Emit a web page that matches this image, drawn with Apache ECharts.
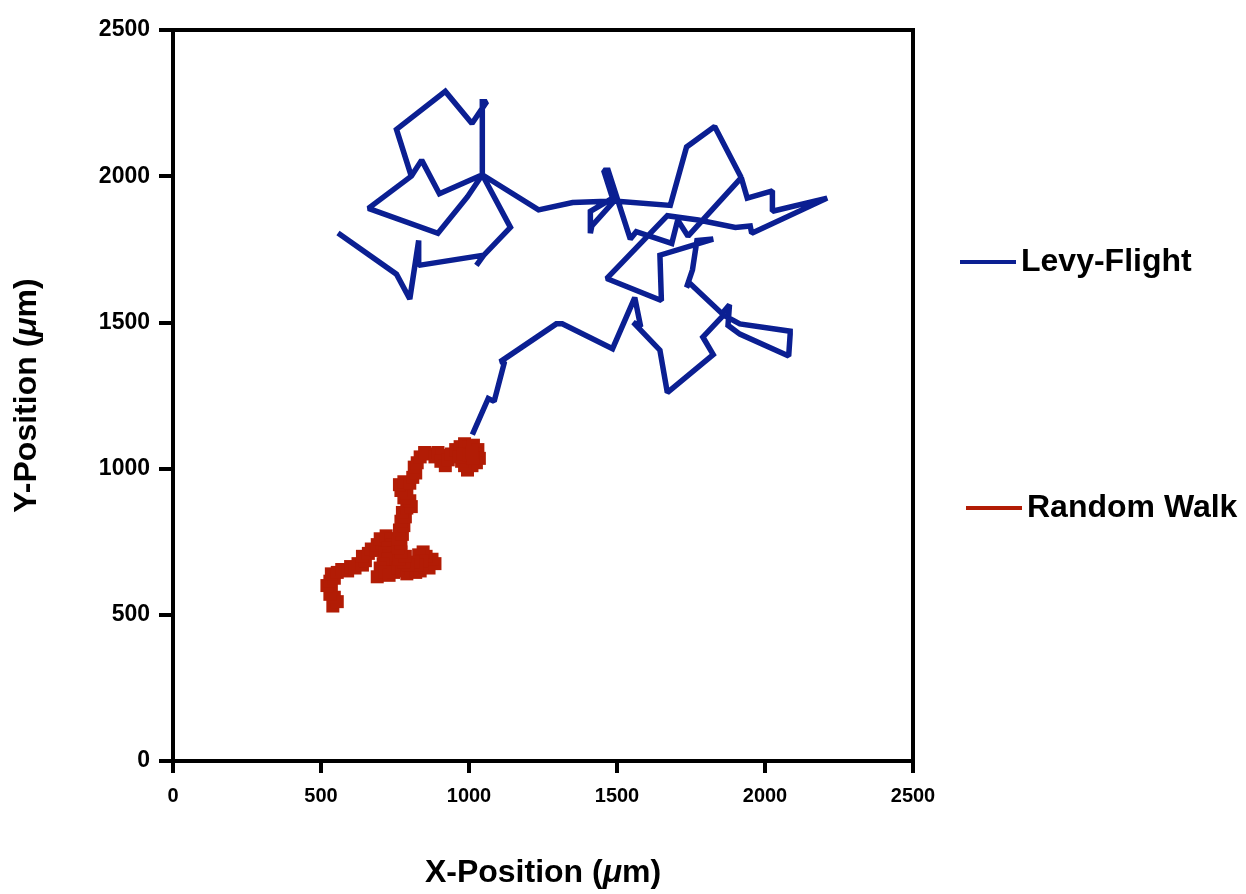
<!DOCTYPE html>
<html lang="en">
<head>
    <meta charset="UTF-8" />
    <title>Levy-Flight vs Random Walk</title>
    <script src="https://cdn.jsdelivr.net/npm/echarts@6/dist/echarts.min.js"></script>
    <style>
        html, body { margin: 0; padding: 0; background: #ffffff; overflow: hidden; }
        #main { width: 1246px; height: 894px; }
    </style>
</head>
<body>
    <div id="main"></div>
    <script type="text/javascript">
        // Levy-Flight track (um)
        var levyX = [1015, 1065, 1085, 1120, 1105, 1295, 1315, 1485, 1560, 1580, 1555, 1645, 1670, 1825, 1790, 1860, 1915, 2085, 2085, 2080,
            1915, 1875, 1880, 1855, 1745, 1735, 1755, 1770, 1825, 1645, 1650, 1465, 1670, 1775, 1900, 1950, 1955, 2210, 2025, 2025,
            1940, 1920, 1740, 1705, 1685, 1565, 1545, 1470, 1455, 1485, 1410, 1410, 1415, 1490, 1680, 1735, 1830, 1920, 1830, 1735,
            1680, 1490, 1350, 1235, 1045, 900, 840, 805, 755, 920, 1010, 1060, 1045, 1045, 995, 895, 660, 785, 805, 840,
            900, 1045, 1140, 1050, 1025, 1050, 830, 830, 800, 755, 565];
        var levyY = [1125, 1240, 1230, 1365, 1365, 1495, 1495, 1410, 1585, 1485, 1500, 1405, 1260, 1390, 1450, 1525, 1495, 1470, 1460, 1385,
            1460, 1490, 1560, 1530, 1635, 1620, 1680, 1780, 1785, 1730, 1575, 1650, 1865, 1850, 1825, 1830, 1805, 1925, 1880, 1950,
            1925, 1995, 1795, 1850, 1770, 1810, 1785, 2020, 2020, 1925, 1880, 1805, 1830, 1915, 1900, 2100, 2170, 1995, 2170, 2100,
            1900, 1915, 1910, 1885, 2005, 1940, 2055, 2000, 2160, 2290, 2180, 2255, 2255, 2005, 1930, 1805, 1890, 1985, 2000, 2055,
            1940, 2005, 1825, 1730, 1695, 1730, 1695, 1780, 1580, 1665, 1800];

        // Random walk track (um)
        var walkX = [540, 555, 545, 530, 535, 520, 530, 545, 535, 555, 570, 590, 600, 615, 625, 640, 650, 640, 660, 670,
            685, 690, 705, 700, 720, 735, 740, 725, 715, 730, 745, 755, 740, 725, 710, 700, 705, 690, 715, 730,
            745, 760, 775, 790, 805, 820, 835, 850, 865, 885, 875, 855, 845, 830, 840, 825, 810, 795, 780, 765,
            785, 770, 760, 770, 760, 775, 765, 780, 770, 785, 775, 790, 805, 800, 780, 790, 770, 765, 780, 800,
            810, 820, 815, 825, 835, 850, 870, 885, 895, 910, 905, 920, 930, 940, 955, 970, 985, 1000, 1015, 1030,
            1020, 1035, 1025, 1010, 995, 985, 975, 965, 980, 1000, 1015, 1010];
        var walkY = [530, 545, 560, 570, 590, 600, 615, 625, 640, 645, 655, 650, 665, 660, 675, 670, 685, 700, 710, 725,
            720, 740, 745, 760, 770, 760, 740, 730, 710, 700, 710, 695, 680, 690, 675, 660, 640, 630, 645, 635,
            645, 660, 650, 640, 655, 645, 650, 665, 660, 675, 690, 700, 715, 705, 685, 670, 680, 670, 680, 690,
            700, 715, 730, 745, 760, 775, 790, 805, 820, 835, 850, 865, 870, 890, 900, 915, 925, 945, 955, 950,
            970, 985, 1005, 1020, 1040, 1055, 1050, 1040, 1055, 1045, 1025, 1010, 1030, 1050, 1065, 1075, 1085, 1075, 1080, 1065,
            1050, 1035, 1020, 1010, 995, 1010, 1025, 1040, 1050, 1045, 1035, 1055];

        var axisTicks = [0, 500, 1000, 1500, 2000, 2500];

        function zip(xs, ys) {
            var out = [];
            for (var i = 0; i < xs.length; i++) {
                out.push([xs[i], ys[i]]);
            }
            return out;
        }

        var font = "'Liberation Sans', Arial, sans-serif";
        var blue = '#0b1f92';
        var red = '#b21c05';

        var chartDom = document.getElementById('main');
        var myChart = echarts.init(chartDom);
        var option;

        option = {
            animation: false,
            backgroundColor: '#ffffff',
            grid: {
                left: 173,
                top: 30,
                width: 740,
                height: 739,
                show: true,
                borderColor: '#000',
                borderWidth: 4
            },
            legend: [
                {
                    data: ['Levy-Flight'],
                    left: 960,
                    top: 246,
                    padding: 0,
                    icon: 'rect',
                    itemWidth: 56,
                    itemHeight: 4,
                    textStyle: { fontFamily: font, fontWeight: 'bold', fontSize: 32, color: '#000' }
                },
                {
                    data: ['Random Walk'],
                    left: 966,
                    top: 492,
                    padding: 0,
                    icon: 'rect',
                    itemWidth: 56,
                    itemHeight: 4,
                    textStyle: { fontFamily: font, fontWeight: 'bold', fontSize: 32, color: '#000' }
                }
            ],
            xAxis: {
                type: 'value',
                min: axisTicks[0],
                max: axisTicks[axisTicks.length - 1],
                interval: 500,
                name: 'X-Position ({i|μ}m)',
                nameLocation: 'middle',
                nameGap: 96,
                nameTextStyle: {
                    fontFamily: font, fontWeight: 'bold', fontSize: 32, color: '#000',
                    rich: { i: { fontFamily: font, fontWeight: 'bold', fontStyle: 'italic', fontSize: 32, color: '#000' } }
                },
                axisLine: { lineStyle: { color: '#000', width: 4 } },
                axisTick: { length: 12, lineStyle: { color: '#000', width: 4 } },
                axisLabel: {
                    margin: 25, fontFamily: font, fontWeight: 'bold', fontSize: 20, color: '#000',
                    formatter: function (v) { return String(v); }
                },
                splitLine: { show: false }
            },
            yAxis: {
                type: 'value',
                min: axisTicks[0],
                max: axisTicks[axisTicks.length - 1],
                interval: 500,
                name: 'Y-Position ({i|μ}m)',
                nameLocation: 'middle',
                nameGap: 130,
                nameTextStyle: {
                    fontFamily: font, fontWeight: 'bold', fontSize: 32, color: '#000',
                    rich: { i: { fontFamily: font, fontWeight: 'bold', fontStyle: 'italic', fontSize: 32, color: '#000' } }
                },
                axisLine: { lineStyle: { color: '#000', width: 4 } },
                axisTick: { length: 14, lineStyle: { color: '#000', width: 4 } },
                axisLabel: {
                    margin: 23, fontFamily: font, fontWeight: 'bold', fontSize: 23, color: '#000',
                    formatter: function (v) { return String(v); }
                },
                splitLine: { show: false }
            },
            series: [
                {
                    name: 'Levy-Flight',
                    type: 'line',
                    data: zip(levyX, levyY),
                    showSymbol: false,
                    symbol: 'none',
                    color: blue,
                    lineStyle: { color: blue, width: 5.5, cap: 'square', join: 'miter', miterLimit: 1.5 },
                    z: 3
                },
                {
                    name: 'Random Walk',
                    type: 'line',
                    data: zip(walkX, walkY),
                    symbol: 'rect',
                    symbolSize: 13,
                    showAllSymbol: true,
                    color: red,
                    itemStyle: { color: red, borderWidth: 0 },
                    lineStyle: { color: red, width: 8, cap: 'square', join: 'miter', miterLimit: 1.5 },
                    z: 2
                }
            ]
        };
        option && myChart.setOption(option);
    </script>
</body>
</html>
